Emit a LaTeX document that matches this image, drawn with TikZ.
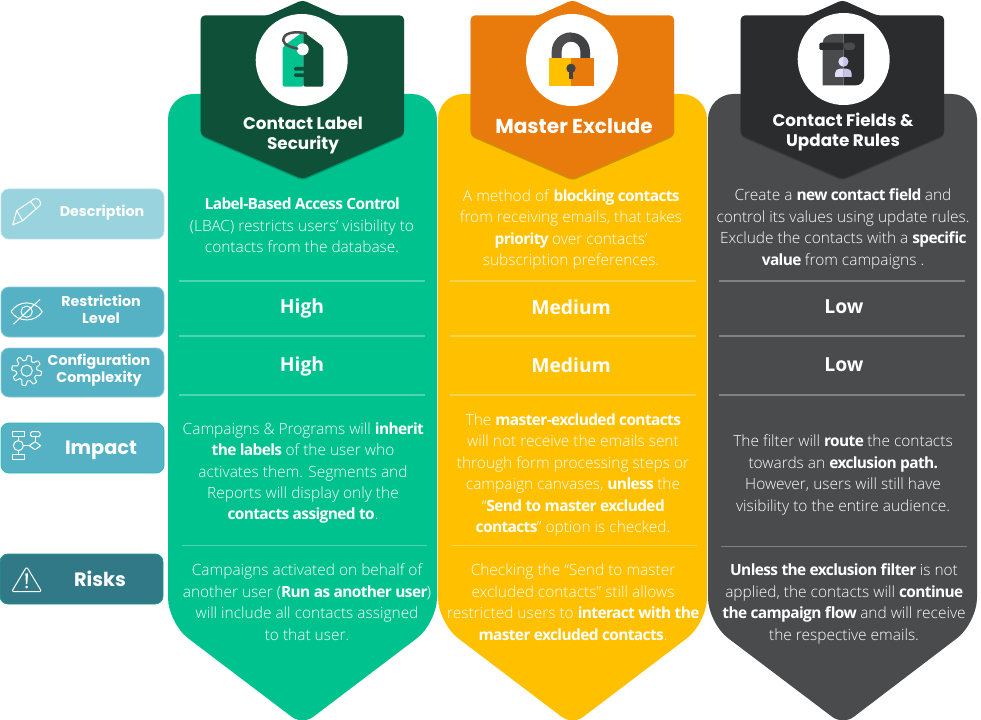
\documentclass[tikz,border=0pt]{standalone}
\usepackage{fontspec}
\setmainfont{Open Sans}
\newfontfamily\bodyf{Open Sans}[UprightFont=* Light,BoldFont=* Bold,BoldFeatures={LetterSpace=-4}]
\newfontfamily\valf{Open Sans}
\newfontfamily\headf{Poppins}
\definecolor{gpanel}{HTML}{00C28E}
\definecolor{ghead}{HTML}{0F5138}
\definecolor{opanel}{HTML}{FFC000}
\definecolor{ohead}{HTML}{E97A0C}
\definecolor{dpanel}{HTML}{4A4B4D}
\definecolor{dhead}{HTML}{2B2C2E}
\definecolor{tabl}{HTML}{98D3DE}
\definecolor{tabm}{HTML}{55B2C5}
\definecolor{tabd}{HTML}{317986}
\definecolor{lav}{HTML}{E2DEF7}
\definecolor{lavd}{HTML}{C9C3EA}
\definecolor{shk}{HTML}{4D4D4F}
\tikzset{
 x=0.75pt,y=-0.75pt,
 bodytext/.style={text=white,align=center,inner sep=0pt,font=\bodyf\fontsize{11.6}{16.1}\selectfont},
 valtext/.style={text=white,inner sep=0pt,font=\valf\bfseries\fontsize{14.5}{17}\selectfont},
 headtext/.style={text=white,align=center,inner sep=0pt,font=\headf\bfseries\fontsize{12.6}{15.2}\selectfont},
 tabtext/.style={text=white,align=center,inner sep=0pt,font=\headf\bfseries\fontsize{10.7}{12.8}\selectfont},
 tabbig/.style={text=white,inner sep=0pt,font=\headf\bfseries\fontsize{14.5}{17}\selectfont},
 tabbox/.style={rounded corners=6pt,line width=0.6pt},
 sep/.style={draw=white,draw opacity=.3,line width=0.8pt},
 ico/.style={draw=white,line width=0.75pt,line join=round},
 zoomed/.style={x=.25pt,y=-.25pt},
}
\newcommand{\panel}[3]{% left, tip x, colour
 \fill[#3] [rounded corners=19pt] (#1,94) -- (#1+269,94) -- (#1+269,623) [rounded corners=10pt] -- (#2,725) [rounded corners=19pt] -- (#1,623) -- cycle;
}
\newcommand{\hdr}[2]{% left x, colour
 \fill[black,opacity=.22,rounded corners=3pt] (#1,17) -- (#1+67.3,17) -- (#1+101.8,1.5) -- (#1+136.3,17) -- (#1+203.3,17) -- (#1+203.3,136.5) -- (#1+101.8,180.5) -- (#1,136.5) -- cycle;
 \fill[#2,rounded corners=3pt] (#1,15.5) -- (#1+67.3,15.5) -- (#1+101.8,0) -- (#1+136.3,15.5) -- (#1+203.3,15.5) -- (#1+203.3,135) -- (#1+101.8,179) -- (#1,135) -- cycle;
}
\begin{document}
\begin{tikzpicture}
\useasboundingbox (0,0) rectangle (981,720);
% panels
\panel{168}{302.5}{gpanel}
\panel{438}{572.5}{opanel}
\panel{708}{843}{dpanel}
% separators
\foreach \y in {281,336,395} {
 \draw[sep] (179,\y) -- (425,\y);
 \draw[sep] (450,\y) -- (696,\y);
 \draw[sep] (719,\y) -- (965,\y);
}
\draw[sep] (182,545.5) -- (427,545.5);
\draw[sep] (451,545.5) -- (697,545.5);
\draw[sep] (721,546.5) -- (967,546.5);
% headers
\hdr{200.7}{ghead}
\hdr{470.7}{ohead}
\hdr{740.7}{dhead}
\fill[white] (301.7,60) circle (46);
\fill[white] (572,60) circle (46);
\fill[white] (843.7,59) circle (46);
% tag icon
\begin{scope}[shift={(160,0)},zoomed]
 \fill[gpanel,rounded corners=1.5pt] (430,95) -- (368,140) -- (368,260) -- (430,260) -- cycle;
 \fill[ghead,rounded corners=1.5pt] (430,95) -- (490,140) -- (490,260) -- (430,260) -- cycle;
 \fill[white] (428,148) circle (18);
 \draw[shk,line width=1.9pt,line cap=round] (438,100) .. controls (400,92) and (368,100) .. (370,122) .. controls (372,136) and (395,142) .. (412,146);
 \fill[ghead,rounded corners=1pt] (402,201) rectangle (458,212);
 \fill[ghead,rounded corners=1pt] (402,220) rectangle (458,231);
\end{scope}
% lock icon
\begin{scope}[shift={(450,0)},zoomed]
 \fill[shk] (305,175) -- (305,155) arc[start angle=180,end angle=270,radius=58] -- (363,125) arc[start angle=270,end angle=180,radius=28] -- (335,175) -- cycle;
 \fill[dhead!90!white] (420,175) -- (420,155) arc[start angle=0,end angle=-90,radius=57] -- (363,125) arc[start angle=-90,end angle=0,radius=28] -- (391,175) -- cycle;
 \fill[opanel] (297,173) rectangle (363,257);
 \fill[ohead] (363,173) rectangle (431,257);
 \fill[dhead!90!white] (363,205) circle (14);
 \fill[dhead!90!white] (358,210) rectangle (368,238);
\end{scope}
% document icon
\begin{scope}[shift={(700,0)},zoomed]
 \fill[dpanel] (431,102) -- (400,102) .. controls (385,102) and (368,112) .. (368,128) -- (368,256) -- (431,256) -- cycle;
 \fill[dhead] (431,102) -- (492,102) -- (492,232) .. controls (492,246) and (480,256) .. (468,256) -- (431,256) -- cycle;
 \fill[dhead,rounded corners=1pt] (431,128) -- (358,128) -- (358,150) -- (431,150) -- cycle;
 \fill[dpanel,rounded corners=2.5pt] (431,128) -- (465,128) -- (465,150) -- (431,150) -- cycle;
 \fill[lav] (430,185) circle (15);
 \fill[lavd] (430,170) arc[start angle=-90,end angle=90,radius=15] -- cycle;
 \fill[lav] (430,206) -- (420,206) .. controls (411,206) and (405,212) .. (405,220) -- (405,231) -- (430,231) -- cycle;
 \fill[lavd] (430,206) -- (440,206) .. controls (449,206) and (455,212) .. (455,220) -- (455,231) -- (430,231) -- cycle;
\end{scope}
% left tabs
\draw[tabbox,draw=tabl!70!white,fill=tabl] (1,189) rectangle (164,239);
\draw[tabbox,draw=tabm!70!white,fill=tabm] (1,287) rectangle (164,337);
\draw[tabbox,draw=tabm!70!white,fill=tabm] (1,348) rectangle (164,397);
\draw[tabbox,draw=gpanel!50!tabm,fill=tabm] (1,423) rectangle (164,473);
\draw[tabbox,draw=gpanel!50!tabd,fill=tabd] (0,554) rectangle (163,604);
% tab icons
\begin{scope}[shift={(0,180)},zoomed]
 \draw[ico] (38,135) -- (50,92) -- (102,57) .. controls (110,52) and (118,58) .. (122,68) .. controls (122,74) and (120,76) .. (118,78) -- (68,122) -- cycle;
 \draw[ico] (50,92) -- (68,122);
 \draw[ico] (92,65) -- (110,88);
 % eye
 \draw[ico] (33,395) .. controls (55,360) and (105,360) .. (127,395) .. controls (105,428) and (55,428) .. (33,395) -- cycle;
 \draw[ico] (80,395) circle (17);
 \draw[ico] (40,433) -- (120,358);
 % gear
 \draw[ico] plot[domain=0:360,samples=145,smooth] ({80+(38+7*min(1,max(-1,2*sin(8*\x))))*cos(\x)},{572+(38+7*min(1,max(-1,2*sin(8*\x))))*sin(\x)}) -- cycle;
 \draw[ico] (80,572) circle (17);
\end{scope}
\begin{scope}[shift={(0,410)},zoomed]
 \draw[ico] (37,65) rectangle (72,80);
 \draw[ico,rounded corners=1pt] (92,65) rectangle (120,80);
 \draw[ico] (55,107) circle (15);
 \draw[ico] (88,107) -- (105,95) -- (122,107) -- (105,119) -- cycle;
 \draw[ico] (37,133) rectangle (72,148);
 \draw[ico] (55,80) -- (55,92) (55,122) -- (55,133) (70,107) -- (88,107) (105,80) -- (105,95);
 % warning
 \draw[ico,rounded corners=1.2pt] (80,470) -- (125,545) -- (35,545) -- cycle;
 \fill[white] (76,490) -- (84,490) -- (82,522) -- (78,522) -- cycle;
 \fill[white] (80,531) circle (4.5);
\end{scope}
% tab labels
\node[tabtext] (ldesc) at (102,212.5) {Description};
\node[tabtext] (lrest) at (101,309) {Restriction\\Level};
\node[tabtext] (lconf) at (99,370) {Configuration\\Complexity};
\node[tabbig] (limp) at (101,450) {Impact};
\node[tabbig] (lrisk) at (100,579) {Risks};
% heads
\node[headtext] (hg) at (303,135.5) {Contact Label\\Security};
\node[headtext,font=\headf\bfseries\fontsize{15.1}{17}\selectfont] (ho) at (574,126) {Master Exclude};
\node[headtext] (hd) at (843,132) {Contact Fields \&\\Update Rules};
% descriptions
\node[bodytext] (gd) at (302,225.5) {\textbf{Label-Based Access Control}\\(LBAC) restricts users’ visibility to\\contacts from the database.};
\node[bodytext] (od) at (571,229.5) {A method of \textbf{blocking contacts}\\from receiving emails, that takes\\\textbf{priority} over contacts’\\subscription preferences.};
\node[bodytext] (dd) at (843,229) {Create a \textbf{new contact field} and\\control its values using update rules.\\Exclude the contacts with a \textbf{specific}\\\textbf{value} from campaigns .};
% values
\node[valtext] (g1) at (302,308.5) {High};
\node[valtext] (o1) at (571,307) {Medium};
\node[valtext] (d1) at (844,307) {Low};
\node[valtext] (g2) at (302,366.5) {High};
\node[valtext] (o2) at (571,365) {Medium};
\node[valtext] (d2) at (844,365) {Low};
% impact
\node[bodytext] (gi) at (303,473) {Campaigns \& Programs will \textbf{inherit}\\\textbf{the labels} of the user who\\activates them. Segments and\\Reports will display only the\\\textbf{contacts assigned to}.};
\node[bodytext] (oi) at (573,475) {The \textbf{master-excluded contacts}\\will not receive the emails sent\\through form processing steps or\\campaign canvases, \textbf{unless} the\\“\textbf{Send to master excluded}\\\textbf{contacts}” option is checked.};
\node[bodytext] (di) at (843,475) {The filter will \textbf{route} the contacts\\towards an \textbf{exclusion path.}\\However, users will still have\\visibility to the entire audience.};
% risks
\node[bodytext] (gr) at (307,602) {Campaigns activated on behalf of\\another user (\textbf{Run as another user})\\will include all contacts assigned\\to that user.};
\node[bodytext] (or) at (573,602) {Checking the “Send to master\\excluded contacts” still allows\\restricted users to \textbf{interact with the}\\\textbf{master excluded contacts}.};
\node[bodytext] (dr) at (844,604) {\textbf{Unless the exclusion filter} is not\\applied, the contacts will \textbf{continue}\\\textbf{the campaign flow} and will receive\\the respective emails.};
\end{tikzpicture}
\end{document}
